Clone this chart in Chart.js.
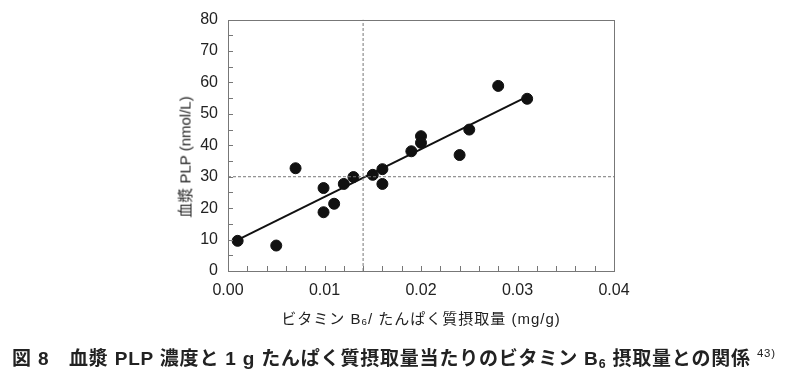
<!DOCTYPE html>
<html><head><meta charset="utf-8">
<script src="https://cdn.jsdelivr.net/npm/chart.js@4"></script>
<style>
html,body{margin:0;padding:0;background:#fff;}
#wrap{position:relative;width:800px;height:377px;overflow:hidden;}
#c{position:absolute;left:0;top:0;}
.t{position:absolute;white-space:nowrap;color:#222;font-family:"Liberation Sans","Noto Sans CJK JP",sans-serif;}
#xt{left:421px;top:317px;transform:translate(-50%,-50%);font-size:15px;letter-spacing:1px;}
#yt{left:184px;top:157px;transform:translate(-50%,-50%) rotate(-90deg);font-size:15px;letter-spacing:0px;}
#cap{left:12px;top:357px;transform:translateY(-50%);font-size:19px;font-weight:bold;color:#222;letter-spacing:0.8px;}
sub{font-size:0.65em;vertical-align:-0.25em;}
sup{font-size:0.6em;vertical-align:0.7em;font-weight:normal;}
</style></head>
<body><div id="wrap"><canvas id="c" width="800" height="377"></canvas>
<div class="t" id="xt">ビタミン B<span style="font-size:0.65em;vertical-align:-0.15em">6</span>/ たんぱく質摂取量 (mg/g)</div>
<div class="t" id="yt">血漿 PLP (nmol/L)</div>
<div class="t" id="cap">図 8　血漿 PLP 濃度と 1 g たんぱく質摂取量当たりのビタミン B<sub>6</sub> 摂取量との関係 <sup>43)</sup></div>
</div>
<script>
const xValues = [0.001,0.005,0.007,0.0099,0.0099,0.011,0.012,0.013,0.015,0.016,0.016,0.019,0.020,0.020,0.024,0.025,0.028,0.031];
const yValues = [9.6,8.1,32.7,26.4,18.7,21.4,27.7,29.9,30.6,32.4,27.7,38.1,42.9,40.8,36.9,45.0,58.9,54.8];
const fitX = [0.001,0.031];
const fitY = [9.9,55.5];
const refX = 0.014;
const refY = 30;
const xRange = [0,0.04];
const yRange = [0,80];
const xMinorStep = 0.002;
const yMinorStep = 5;

const pts = xValues.map((x,i)=>({x:x,y:yValues[i]}));
const fit = fitX.map((x,i)=>({x:x,y:fitY[i]}));

const frame = {
  id:'frame',
  afterDatasetsDraw(chart){
    const {ctx, chartArea:a, scales:{x,y}} = chart;
    ctx.save();
    ctx.strokeStyle='#777'; ctx.lineWidth=1;
    ctx.strokeRect(Math.round(a.left)+0.5, Math.round(a.top)+0.5, Math.round(a.right-a.left), Math.round(a.bottom-a.top));
    ctx.beginPath();
    for(let v=xRange[0]+xMinorStep; v<xRange[1]-1e-9; v+=xMinorStep){
      const px=Math.round(x.getPixelForValue(v))+0.5;
      ctx.moveTo(px,a.bottom); ctx.lineTo(px,a.bottom-5);
    }
    for(let v=yRange[0]+yMinorStep; v<yRange[1]-1e-9; v+=yMinorStep){
      const py=Math.round(y.getPixelForValue(v))+0.5;
      ctx.moveTo(a.left,py); ctx.lineTo(a.left+5,py);
    }
    ctx.stroke();
    ctx.restore();
  }
};

new Chart(document.getElementById('c'),{
  type:'scatter',
  data:{datasets:[
    {type:'line',data:[{x:refX,y:yRange[0]},{x:refX,y:yRange[1]}],borderColor:'#777',borderWidth:1,borderDash:[3,2],pointRadius:0,fill:false},
    {type:'line',data:[{x:xRange[0],y:refY},{x:xRange[1],y:refY}],borderColor:'#777',borderWidth:1,borderDash:[3,2],pointRadius:0,fill:false},
    {type:'line',data:fit,borderColor:'#111',borderWidth:2,pointRadius:0,fill:false},
    {data:pts,backgroundColor:'#111',borderColor:'#111',pointRadius:5.5,pointHoverRadius:5.5}
  ]},
  options:{
    responsive:false,animation:false,
    layout:{padding:{left:0,top:17,right:186,bottom:0}},
    plugins:{legend:{display:false},tooltip:{enabled:false}},
    scales:{
      x:{type:'linear',min:xRange[0],max:xRange[1],
        grid:{display:false,drawTicks:false},border:{display:false},
        ticks:{stepSize:0.01,padding:10,color:'#222',font:{family:'Liberation Sans',size:16},callback:v=>v.toFixed(2)},
        afterFit(s){s.height=106;}},
      y:{type:'linear',min:yRange[0],max:yRange[1],
        grid:{display:false,drawTicks:false},border:{display:false},
        ticks:{stepSize:10,padding:10,color:'#222',font:{family:'Liberation Sans',size:16}},
        afterFit(s){s.width=228;}}
    }
  },
  plugins:[frame]
});
</script></body></html>
